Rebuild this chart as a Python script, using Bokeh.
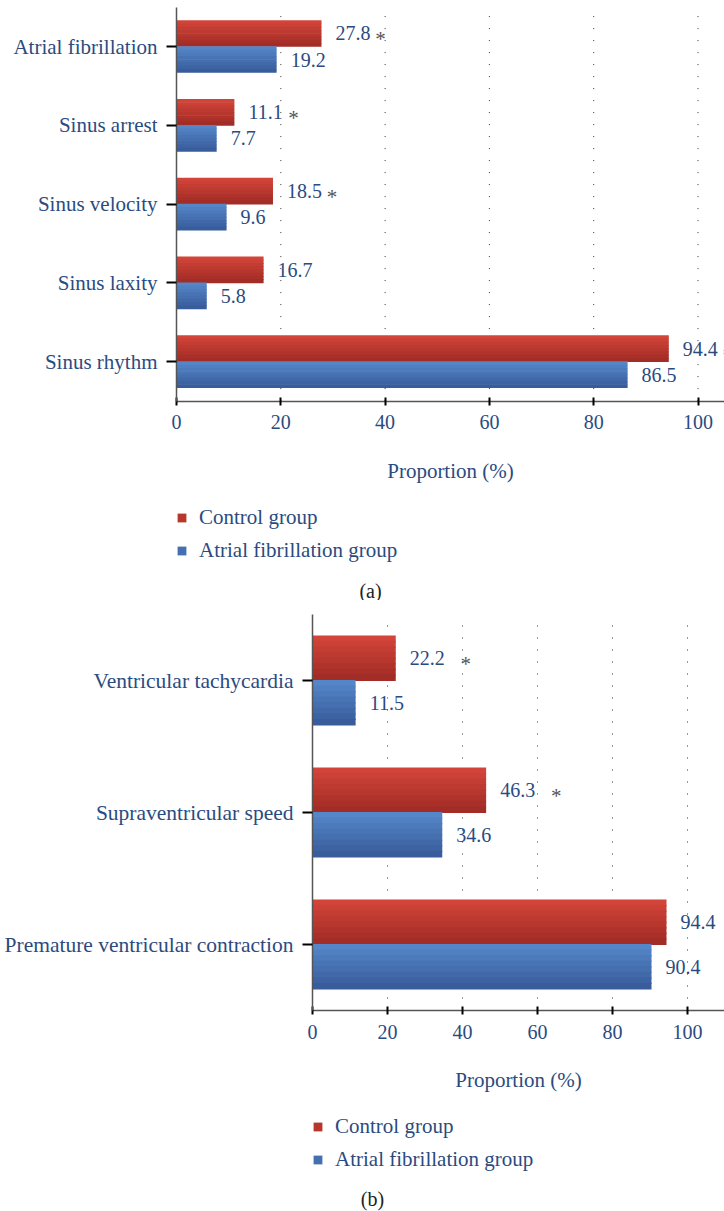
from bokeh.plotting import figure
from bokeh.models import Range1d, FixedTicker, Legend, LegendItem, Label
from bokeh.transform import dodge
from bokeh.embed import file_html
from bokeh.resources import INLINE
from bokeh.core.properties import value

# ---------------- data ----------------
cats_a = ["Atrial fibrillation", "Sinus arrest", "Sinus velocity", "Sinus laxity", "Sinus rhythm"]
control_a = [27.8, 11.1, 18.5, 16.7, 94.4]
af_a = [19.2, 7.7, 9.6, 5.8, 86.5]
sig_a = [True, True, True, False, True]

cats_b = ["Ventricular tachycardia", "Supraventricular speed", "Premature ventricular contraction"]
control_b = [22.2, 46.3, 94.4]
af_b = [11.5, 34.6, 90.4]
sig_b = [True, True, True]

x_ticks = [0, 20, 40, 60, 80, 100]
series_names = ["Control group", "Atrial fibrillation group"]
captions = ["(a)", "(b)"]
x_label = "Proportion (%)"

# ---------------- style ----------------
FONT = "Liberation Serif"
TXT = "#2B4B80"
RED = ((210, 68, 57), (162, 44, 38))
BLUE = ((84, 134, 200), (57, 93, 156))
N_SLICES = 8
W = 724


def hexc(c):
    return "#%02x%02x%02x" % tuple(int(round(v)) for v in c)


def lerp(c1, c2, t):
    return tuple(a + (b - a) * t for a, b in zip(c1, c2))


def gradient_bars(p, pos, vals, center, h, cols):
    mid = None
    for i in range(N_SLICES):
        off = center + h / 2 - (i + 0.5) * h / N_SLICES
        col = hexc(lerp(cols[0], cols[1], i / (N_SLICES - 1)))
        r = p.hbar(y=dodge("pos", off), right="val", left=0,
                   height=h / N_SLICES * 1.2, fill_color=col, line_color=None,
                   source=dict(pos=pos, val=vals))
        if i == N_SLICES // 2:
            mid = r
    return mid


def make_panel(cats, control, af, sig, caption, height, left_px, px_unit_x, px_unit_y,
               top_px, bar_h, star_off, legend_vy, cap_x, cap_y, cat_font):
    n = len(cats)
    pos = list(range(n - 1, -1, -1))          # top category at highest position
    y_end = n - 0.5 + top_px / px_unit_y
    y_start = y_end - height / px_unit_y
    x_start = -left_px / px_unit_x
    x_end = x_start + W / px_unit_x
    p = figure(width=W, height=height, y_range=Range1d(y_start, y_end),
               x_range=Range1d(x_start, x_end), output_backend="svg",
               toolbar_location=None, title=None, min_border=0)
    p.outline_line_color = None
    p.xgrid.grid_line_color = None
    p.ygrid.grid_line_color = None

    # dotted vertical grid lines, limited to the category region
    gx = x_ticks[1:]
    p.segment(x0=gx, x1=gx, y0=[-0.5] * len(gx), y1=[n - 0.5] * len(gx),
              line_color="#333333", line_dash="1 11", line_width=1)

    r_red = gradient_bars(p, pos, control, bar_h / 2, bar_h, RED)
    r_blue = gradient_bars(p, pos, af, -bar_h / 2, bar_h, BLUE)

    p.text(x="val", y=dodge("pos", bar_h / 2), text="lab",
           source=dict(pos=pos, val=control, lab=["%.1f" % v for v in control]),
           x_offset=14, text_baseline="middle", text_font=value(FONT),
           text_font_size="20px", text_color=TXT)
    p.text(x="val", y=dodge("pos", -bar_h / 2), text="lab",
           source=dict(pos=pos, val=af, lab=["%.1f" % v for v in af]),
           x_offset=14, text_baseline="middle", text_font=value(FONT),
           text_font_size="20px", text_color=TXT)
    sp = [c for c, s in zip(pos, sig) if s]
    sv = [v for v, s in zip(control, sig) if s]
    p.text(x="val", y=dodge("pos", bar_h / 2), text="lab",
           source=dict(pos=sp, val=sv, lab=["*"] * len(sp)),
           x_offset=star_off, y_offset=6, text_baseline="middle", text_align="center",
           text_font=value(FONT), text_font_size="21px", text_color="#555555")

    xa = p.xaxis[0]
    xa.fixed_location = -0.5
    xa.bounds = (0, x_end)
    xa.ticker = FixedTicker(ticks=x_ticks)
    xa.axis_line_color = "#555555"
    xa.axis_line_width = 1.5
    xa.major_tick_line_color = "black"
    xa.major_tick_line_width = 2
    xa.major_tick_in = 4
    xa.major_tick_out = 4
    xa.minor_tick_line_color = None
    xa.major_label_standoff = 10
    xa.major_label_text_font = FONT
    xa.major_label_text_font_size = "20px"
    xa.major_label_text_color = TXT
    xa.axis_label = x_label
    xa.axis_label_text_font = FONT
    xa.axis_label_text_font_size = "21px"
    xa.axis_label_text_font_style = "normal"
    xa.axis_label_text_color = TXT
    xa.axis_label_standoff = 26

    ya = p.yaxis[0]
    ya.fixed_location = 0
    ya.bounds = (-0.5, n - 0.5)
    ya.ticker = FixedTicker(ticks=pos)
    ya.major_label_overrides = {pv: c for pv, c in zip(pos, cats)}
    ya.axis_line_color = "#555555"
    ya.axis_line_width = 1.5
    ya.major_tick_line_color = "black"
    ya.major_tick_line_width = 2
    ya.major_tick_in = 0
    ya.major_tick_out = 10
    ya.minor_tick_line_color = None
    ya.major_label_standoff = 9
    ya.major_label_text_font = FONT
    ya.major_label_text_font_size = cat_font
    ya.major_label_text_color = TXT

    legend = Legend(items=[LegendItem(label=series_names[0], renderers=[r_red]),
                           LegendItem(label=series_names[1], renderers=[r_blue])],
                    location=(left_px, legend_vy), orientation="vertical",
                    glyph_width=11, glyph_height=11, label_standoff=12,
                    label_text_font=FONT, label_text_font_size="21px",
                    label_text_color=TXT, spacing=8, padding=0, margin=0,
                    border_line_color=None, background_fill_alpha=0)
    p.add_layout(legend)
    p.add_layout(Label(x=cap_x, y=cap_y, x_units="screen", y_units="screen", text=caption,
                       text_align="center", text_baseline="middle", text_font=FONT,
                       text_font_size="20px", text_color="#222222"))
    return p


pa = make_panel(cats_a, control_a, af_a, sig_a, captions[0], 600, 176, 5.215, 78.8, 6.6,
                0.33, 59, 37, 370, 10, "21px")
pb = make_panel(cats_b, control_b, af_b, sig_b, captions[1], 611, 312, 3.75, 132.0, 14,
                0.337, 70, 39, 372, 13, "21.5px")

open("out.html", "w").write(file_html([pa, pb], INLINE))
